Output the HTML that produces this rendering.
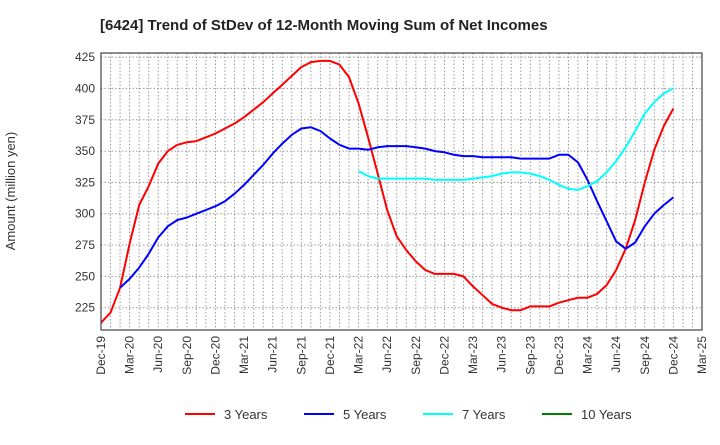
<!DOCTYPE html>
<html><head><meta charset="utf-8"><style>
body{margin:0;background:#fff;font-family:"Liberation Sans",sans-serif}
</style></head><body>
<svg id="chart" width="720" height="440" xmlns="http://www.w3.org/2000/svg" font-family="Liberation Sans, sans-serif">
<text x="100" y="30" font-size="15" font-weight="bold" fill="#222">[6424]  Trend of StDev of 12-Month Moving Sum of Net Incomes</text>
<text transform="translate(15,191) rotate(-90)" text-anchor="middle" font-size="13" fill="#333">Amount (million yen)</text>
<g id="grid"></g><g id="series"></g><g id="axes"></g>
<g id="legend"></g>
</svg>
<script>
const xTickLabels=["Dec-19","Mar-20","Jun-20","Sep-20","Dec-20","Mar-21","Jun-21","Sep-21","Dec-21","Mar-22","Jun-22","Sep-22","Dec-22","Mar-23","Jun-23","Sep-23","Dec-23","Mar-24","Jun-24","Sep-24","Dec-24","Mar-25"];
const yTicks=[225,250,275,300,325,350,375,400,425];
const seriesNames=["3 Years","5 Years","7 Years","10 Years"];
const seriesColors=["#ff0000","#0000ff","#00ffff","#008000"];
const s3=[213,221,241,276,307,322,340,350,355,357,358,361,364,368,372,377,383,389,396,403,410,417,421,422,422,419,409,388,361,332,303,282,271,262,255,252,252,252,250,242,235,228,225,223,223,226,226,226,229,231,233,233,236,243,255,272,295,325,351,370,384];
const s5=[null,null,241,248,257,268,281,290,295,297,300,303,306,310,316,323,331,339,348,356,363,368,369,366,360,355,352,352,351,353,354,354,354,353,352,350,349,347,346,346,345,345,345,345,344,344,344,344,347,347,341,327,310,294,278,272,277,290,300,307,313];
const s7=[null,null,null,null,null,null,null,null,null,null,null,null,null,null,null,null,null,null,null,null,null,null,null,null,null,null,null,334,330,328,328,328,328,328,328,327,327,327,327,328,329,330,332,333,333,332,330,327,323,320,319,322,326,333,342,353,366,380,389,396,400];
const s10=[];
const X0=101,X1=702,Y0=53,Y1=330;
const NS="http://www.w3.org/2000/svg";
function xs(i){return X0+i*(X1-X0)/63;}
function ys(v){return 307.7-(v-225)*1.253;}
function mk(t,a,p){const e=document.createElementNS(NS,t);for(const k in a)e.setAttribute(k,a[k]);p.appendChild(e);return e;}
const grid=document.getElementById('grid'),axes=document.getElementById('axes'),ser=document.getElementById('series'),leg=document.getElementById('legend');
for(let m=1;m<63;m++){const l=mk('line',{x1:xs(m),x2:xs(m),y1:Y0,y2:Y1,stroke:'#999','stroke-dasharray':'1.5,2','stroke-width':1},grid);

}
yTicks.forEach(v=>{const l=mk('line',{x1:X0,x2:X1,y1:ys(v),y2:ys(v),stroke:'#999','stroke-dasharray':'1.5,2','stroke-width':1},grid);


const t=mk('text',{x:X0-6,y:ys(v)+4,'text-anchor':'end','font-size':12,fill:'#333'},axes);t.textContent=v;

});
xTickLabels.forEach((s,q)=>{const x=xs(q*3);const t=mk('text',{transform:`translate(${x+4},${Y1+6}) rotate(-90)`,'text-anchor':'end','font-size':12,fill:'#333'},axes);t.textContent=s;

});
const fr=mk('rect',{x:X0,y:Y0,width:X1-X0,height:Y1-Y0,fill:'none',stroke:'#444','stroke-width':1.2},axes);


[s3,s5,s7,s10].forEach((arr,k)=>{let d='',pen=false;arr.forEach((v,i)=>{if(v==null){pen=false;return;}d+=(pen?'L':'M')+xs(i).toFixed(1)+','+ys(v).toFixed(1);pen=true;});
if(d){const p=mk('path',{d:d,fill:'none',stroke:seriesColors[k],'stroke-width':2,'stroke-linejoin':'round'},ser);

}});
const lx=[185,304,423,542];
seriesNames.forEach((n,k)=>{const g=mk('g',{},leg);


mk('line',{x1:lx[k],x2:lx[k]+30,y1:414,y2:414,stroke:seriesColors[k],'stroke-width':2},g);
const t=mk('text',{x:lx[k]+39,y:419,'font-size':13,fill:'#333'},g);t.textContent=n;});
</script>
</body></html>
